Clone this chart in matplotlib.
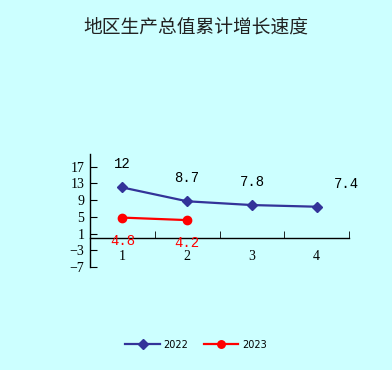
import matplotlib.pyplot as plt

quarters = [1, 2, 3, 4]
growth_2022 = [12, 8.7, 7.8, 7.4]
growth_2023 = [4.8, 4.2]
tick_values = [-7, -3, 1, 5, 9, 13, 17]

bg = '#CCFFFF'
fig = plt.figure(figsize=(3.92, 3.70), dpi=100, facecolor=bg)
ax = fig.add_axes([0.2296, 0.2784, 0.661, 0.3054], facecolor=bg)

fig.text(0.5, 0.927, '地区生产总值累计增长速度', ha='center', va='center',
         fontsize=13.5, family=['Noto Sans CJK SC', 'DejaVu Sans'], color='#222222')

ax.plot(quarters, growth_2022, color='#333399', lw=1.6, marker='D', ms=5.5, label='2022')
ax.plot(quarters[:len(growth_2023)], growth_2023, color='#FF0000', lw=1.6, marker='o',
        ms=6, label='2023')

# labels: 2022 above, 2023 below
for i, (q, v) in enumerate(zip(quarters, growth_2022)):
    dx = 30 if i == len(growth_2022) - 1 else 0
    ax.annotate(f'{v:g}', (q, v), xytext=(dx, 16), textcoords='offset pixels',
                ha='center', va='bottom', fontsize=10, family='Liberation Mono')
for q, v in zip(quarters, growth_2023):
    ax.annotate(f'{v:g}', (q, v), xytext=(0, -16), textcoords='offset pixels',
                ha='center', va='top', fontsize=10, family='Liberation Mono', color='red')

ax.set_xlim(0.5, 4.5)
ax.set_ylim(-7, 20)
for s in ['top', 'right']:
    ax.spines[s].set_visible(False)
ax.spines['bottom'].set_position(('data', 0))
ax.spines['left'].set_linewidth(1)
ax.spines['bottom'].set_linewidth(1)

ax.set_yticks(tick_values)
ax.set_yticklabels([f'{t:g}'.replace('-', '\u2212') for t in tick_values],
                   family='Liberation Serif', fontsize=10)
ax.tick_params(axis='y', direction='in', length=5, pad=4)

ax.set_xticks(quarters)
ax.set_xticklabels([str(q) for q in quarters], family='Liberation Serif', fontsize=10)
ax.tick_params(axis='x', which='major', length=0, pad=9)
ax.set_xticks([1.5, 2.5, 3.5, 4.5], minor=True)
ax.tick_params(axis='x', which='minor', direction='in', length=5)

fig.legend(loc='center', bbox_to_anchor=(0.5, 0.068), ncol=2, frameon=False,
           prop={'family': 'DejaVu Sans', 'size': 7}, handlelength=3.5,
           columnspacing=1.6, handletextpad=0.4, markerscale=0.9)

fig.savefig('out.png', dpi=100, facecolor=bg)
